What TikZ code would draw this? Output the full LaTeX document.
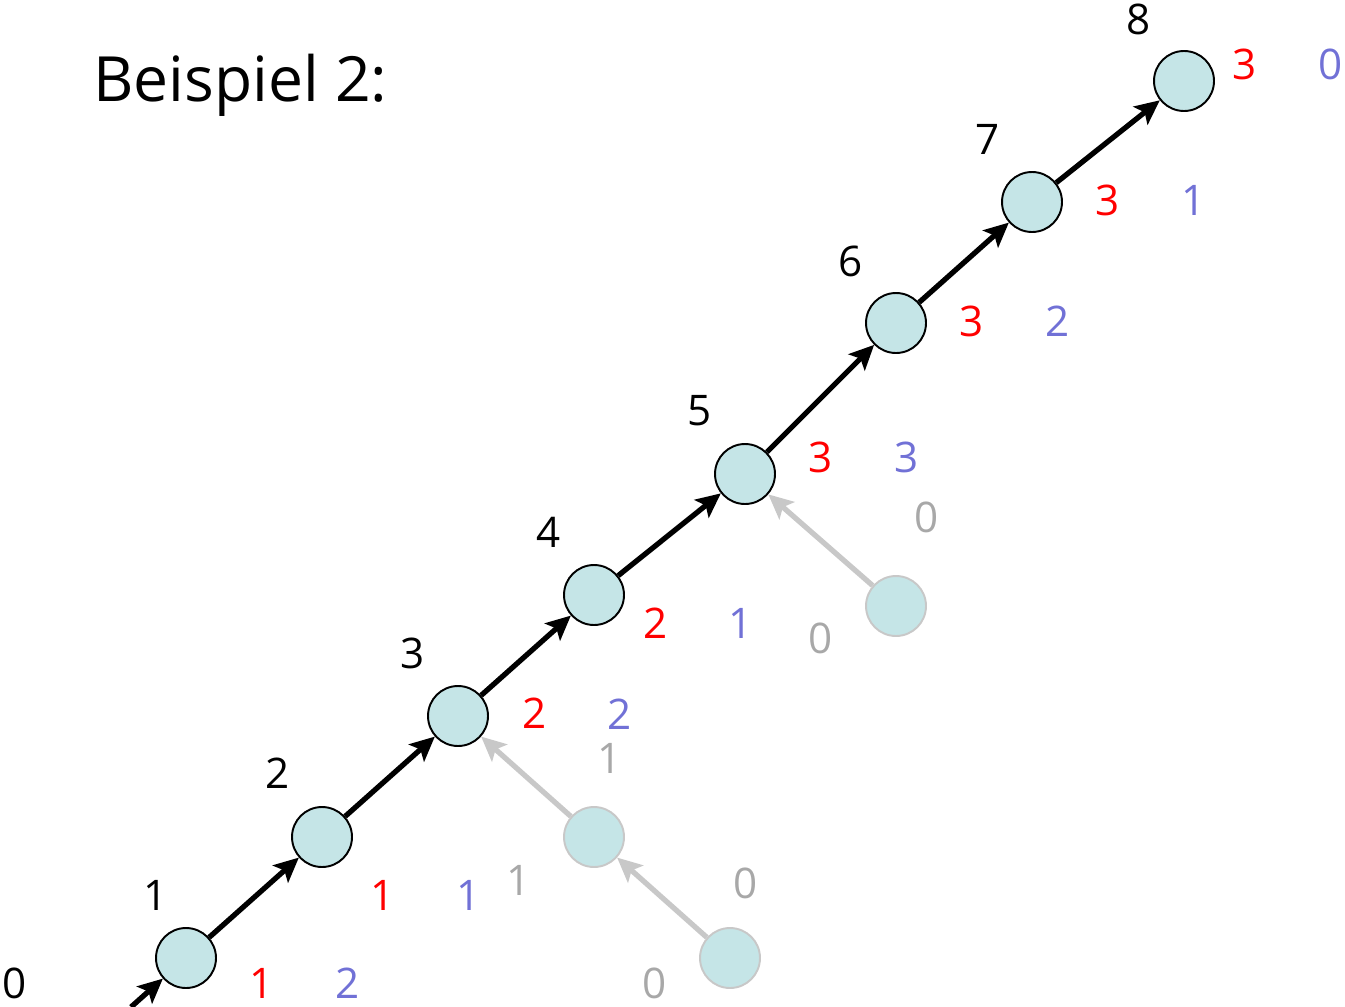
\documentclass[tikz,border=0pt]{standalone}
\usepackage{fontspec}
\setmainfont{Open Sans}
\usetikzlibrary{arrows.meta,positioning}
\definecolor{knot}{HTML}{C5E5E7}
\definecolor{lila}{HTML}{7171D6}
\definecolor{hellgrau}{HTML}{A8A8A8}
\definecolor{randgrau}{HTML}{C8C8C8}

\begin{document}
\begin{tikzpicture}[
    x=0.02cm, y=-0.02cm,
    knoten/.style={circle, minimum size=1.2cm, inner sep=0pt, draw=black, line width=1.1pt, fill=knot},
    geist/.style={knoten, draw=randgrau},
    zahl/.style={font=\fontsize{24}{28}\selectfont, inner sep=0pt},
    rot/.style={zahl, text=red},
    blau/.style={zahl, text=lila},
    grau/.style={zahl, text=hellgrau},
    arrow/.style={line width=3pt, -{Stealth[length=14pt,width=13pt,inset=3pt]}},
    grauarrow/.style={arrow, draw=randgrau}
]
\useasboundingbox (0,0) rectangle (1345,1007);

% Titel
\node (titel) [anchor=base west, inner sep=0pt, font=\fontsize{35.5}{42}\selectfont] at (93,102) {Beispiel 2:};

% Hauptpfad
\coordinate (start) at (131,1007);
\node (n1) [knoten] at (186,958) {};
\node (n2) [knoten] at (322,837) {};
\node (n3) [knoten] at (458,716) {};
\node (n4) [knoten] at (594,595) {};
\node (n5) [knoten] at (745,474) {};
\node (n6) [knoten] at (896,323) {};
\node (n7) [knoten] at (1032,202) {};
\node (n8) [knoten] at (1184,81) {};

% Seitenzweige
\node (g1) [geist] at (594,837) {};
\node (g2) [geist] at (730,958) {};
\node (g3) [geist] at (896,606) {};

% Schrittnummern
\node (s0) [zahl] at (15,983) {0};
\node (s1) [zahl] at (156,895) {1};
\node (s2) [zahl] at (278,773) {2};
\node (s3) [zahl] at (413,653) {3};
\node (s4) [zahl] at (549,532) {4};
\node (s5) [zahl] at (700,411) {5};
\node (s6) [zahl] at (851,261) {6};
\node (s7) [zahl] at (988,139) {7};
\node (s8) [zahl] at (1139,19) {8};

% rote Werte
\node (r1) [rot] at (262,983) {1};
\node (r2) [rot] at (383,895) {1};
\node (r3) [rot] at (535,713) {2};
\node (r4) [rot] at (656,623) {2};
\node (r5) [rot] at (821,457) {3};
\node (r6) [rot] at (972,321) {3};
\node (r7) [rot] at (1108,200) {3};
\node (r8) [rot] at (1245,64) {3};

% blaue Werte
\node (b1) [blau] at (348,983) {2};
\node (b2) [blau] at (469,895) {1};
\node (b3) [blau] at (620,714) {2};
\node (b4) [blau] at (741,623) {1};
\node (b5) [blau] at (907,457) {3};
\node (b6) [blau] at (1058,321) {2};
\node (b7) [blau] at (1194,200) {1};
\node (b8) [blau] at (1331,64) {0};

% graue Werte
\node (h1) [grau] at (519,880) {1};
\node (h2) [grau] at (610,758) {1};
\node (h3) [grau] at (746,883) {0};
\node (h4) [grau] at (655,983) {0};
\node (h5) [grau] at (821,638) {0};
\node (h6) [grau] at (927,517) {0};

% Pfeile
\draw [arrow] (start) -- (n1);
\draw [arrow] (n1) -- (n2);
\draw [arrow] (n2) -- (n3);
\draw [arrow] (n3) -- (n4);
\draw [arrow] (n4) -- (n5);
\draw [arrow] (n5) -- (n6);
\draw [arrow] (n6) -- (n7);
\draw [arrow] (n7) -- (n8);
\draw [grauarrow] (g1) -- (n3);
\draw [grauarrow] (g2) -- (g1);
\draw [grauarrow] (g3) -- (n5);

\end{tikzpicture}
\end{document}
